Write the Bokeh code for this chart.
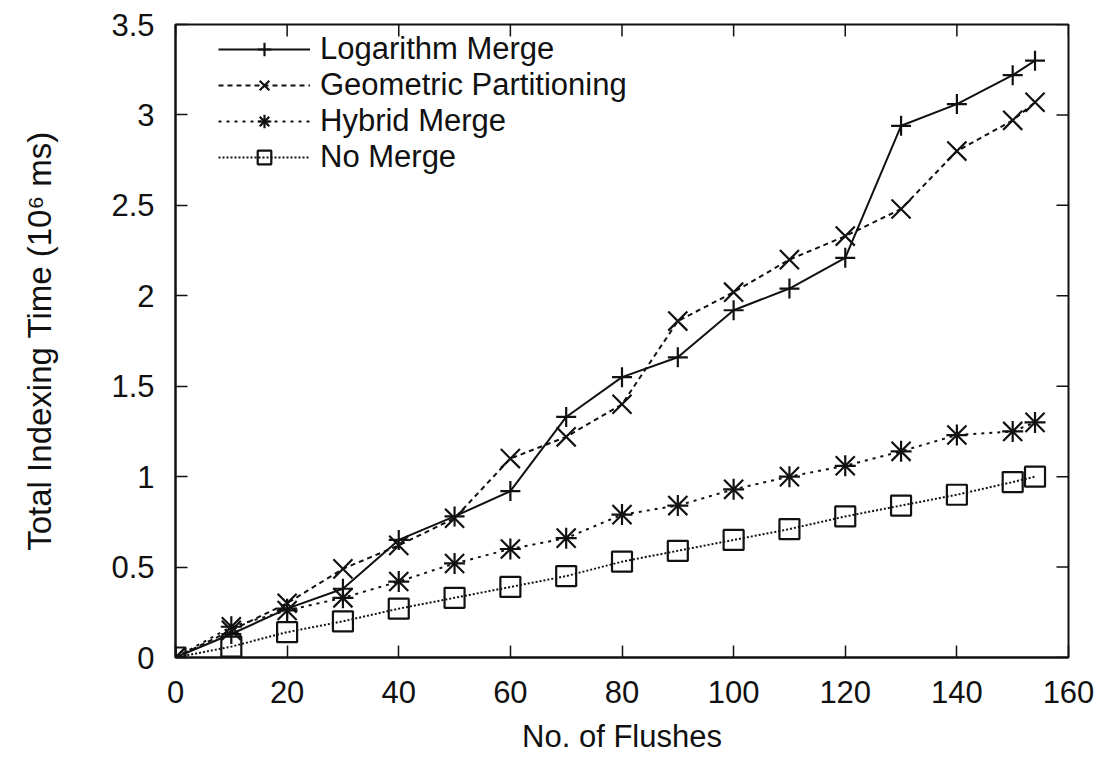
import math
from bokeh.plotting import figure
from bokeh.models import FixedTicker, LinearAxis, Legend, LegendItem, Range1d
from bokeh.embed import file_html
from bokeh.resources import INLINE

# ---- data ----
flushes = [0, 10, 20, 30, 40, 50, 60, 70, 80, 90, 100, 110, 120, 130, 140, 150, 154]
log_merge = [0, 0.13, 0.27, 0.38, 0.65, 0.78, 0.92, 1.33, 1.55, 1.66, 1.92, 2.04, 2.21, 2.94, 3.06, 3.22, 3.30]
geo_part = [0, 0.15, 0.30, 0.49, 0.62, 0.77, 1.10, 1.22, 1.40, 1.86, 2.02, 2.20, 2.33, 2.48, 2.80, 2.97, 3.07]
hybrid = [0, 0.17, 0.26, 0.33, 0.42, 0.52, 0.60, 0.66, 0.79, 0.84, 0.93, 1.00, 1.06, 1.14, 1.23, 1.25, 1.30]
no_merge = [0, 0.06, 0.14, 0.20, 0.27, 0.33, 0.39, 0.45, 0.53, 0.59, 0.65, 0.71, 0.78, 0.84, 0.90, 0.97, 1.00]

series_names = ["Logarithm Merge", "Geometric Partitioning", "Hybrid Merge", "No Merge"]

x_ticks = [0, 20, 40, 60, 80, 100, 120, 140, 160]
y_ticks = [0, 0.5, 1, 1.5, 2, 2.5, 3, 3.5]
y_tick_labels = ["0", "0.5", "1", "1.5", "2", "2.5", "3", "3.5"]

x_label = "No. of Flushes"
y_label = "Total Indexing Time (10\u2076 ms)"

X_MIN, X_MAX = 0, 160
Y_MIN, Y_MAX = 0, 3.5

FONT = "Liberation Sans"
FS = "31px"
INK = "#111111"

p = figure(width=1104, height=757, output_backend="svg", toolbar_location=None,
           x_range=Range1d(X_MIN, X_MAX), y_range=Range1d(Y_MIN, Y_MAX),
           min_border_left=175, min_border_right=36, min_border_top=24, min_border_bottom=100,
           x_axis_location=None, y_axis_location=None)
p.xgrid.visible = False
p.ygrid.visible = False
p.outline_line_color = INK
p.outline_line_width = 2
p.background_fill_color = "white"
p.border_fill_color = "white"

def style_axis(ax):
    ax.major_tick_in = 12
    ax.major_tick_out = 0
    ax.minor_tick_in = 0
    ax.minor_tick_out = 0
    ax.axis_line_color = INK
    ax.axis_line_width = 2
    ax.major_tick_line_color = INK
    ax.major_tick_line_width = 1.5
    ax.major_label_text_font = FONT
    ax.major_label_text_font_size = FS
    ax.major_label_text_color = INK
    ax.axis_label_text_font = FONT
    ax.axis_label_text_font_size = FS
    ax.axis_label_text_font_style = "normal"
    ax.axis_label_text_color = INK

xb = LinearAxis(ticker=FixedTicker(ticks=x_ticks), axis_label=x_label)
style_axis(xb)
xb.major_label_standoff = 23
xb.axis_label_standoff = 13
p.add_layout(xb, "below")

yl = LinearAxis(ticker=FixedTicker(ticks=y_ticks), axis_label=y_label)
style_axis(yl)
yl.axis_label_text_font_size = "33px"
yl.major_label_overrides = {t: s for t, s in zip(y_ticks, y_tick_labels)}
yl.major_label_standoff = 21
yl.axis_label_standoff = 50
p.add_layout(yl, "left")

# mirrored inward ticks on the top and right edges
p.ray(x=x_ticks, y=[Y_MAX] * len(x_ticks), length=12, length_units="screen",
      angle=-math.pi / 2, line_color=INK, line_width=1.5)
p.ray(x=[X_MAX] * len(y_ticks), y=y_ticks, length=12, length_units="screen",
      angle=math.pi, line_color=INK, line_width=1.5)

# (values, dash, [(marker, size), ...])
styles = [
    (log_merge, None, [("cross", 20)]),
    (geo_part, "5 4", [("x", 27)]),
    (hybrid, "3 5", [("cross", 21), ("x", 27)]),
    (no_merge, "2 2", [("square", 20)]),
]

items = []
for name, (ys, dash, marks) in zip(series_names, styles):
    kw = {}
    if dash:
        kw["line_dash"] = dash
    rends = [p.line(flushes, ys, line_color=INK, line_width=2, **kw)]
    for marker, size in marks:
        rends.append(p.scatter(flushes, ys, marker=marker, size=size, line_color=INK,
                               line_width=2.2, fill_alpha=0))
    items.append(LegendItem(label=name, renderers=rends))

legend = Legend(items=items, location=(43, 482))
legend.border_line_color = None
legend.background_fill_alpha = 0
legend.label_text_font = FONT
legend.label_text_font_size = "31px"
legend.label_text_color = INK
legend.glyph_width = 92
legend.glyph_height = 34
legend.label_height = 34
legend.label_standoff = 10
legend.spacing = 0
legend.padding = 0
legend.margin = 0
p.add_layout(legend, "center")

open("out.html", "w").write(file_html(p, INLINE))
